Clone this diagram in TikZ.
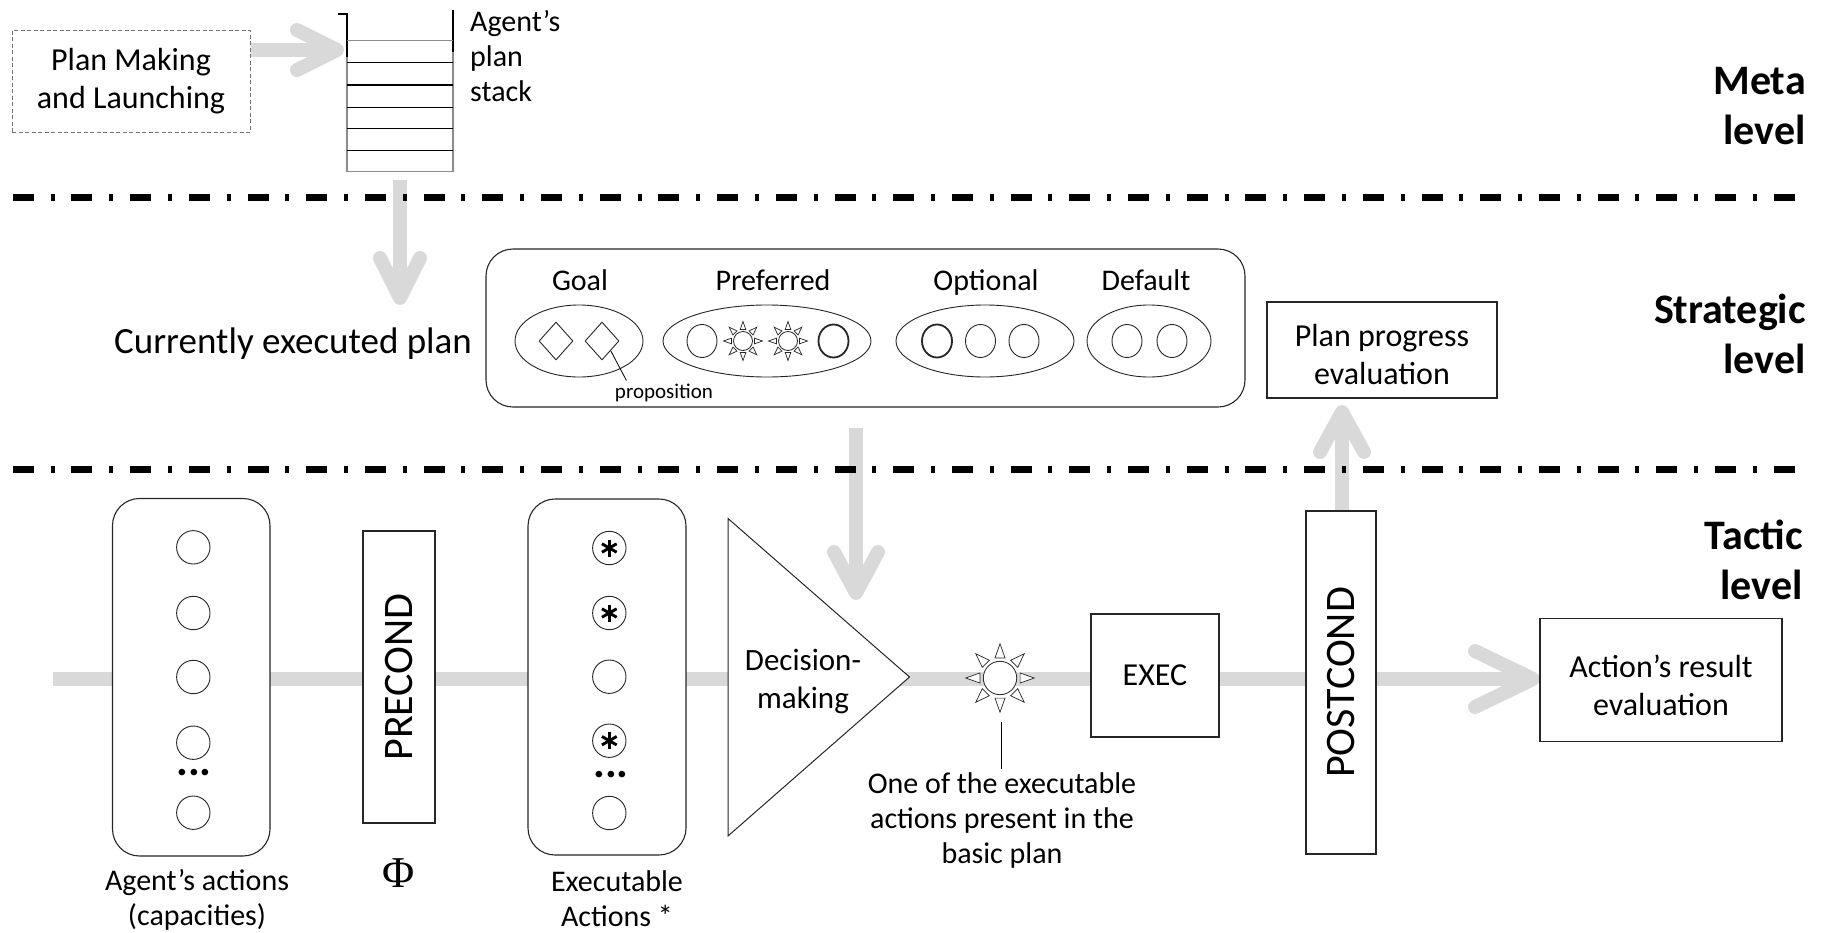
\documentclass[tikz,border=0pt]{standalone}
\usepackage{fontspec}
\setmainfont{Carlito}
\newfontfamily\phifont{Liberation Serif}
\usetikzlibrary{shapes.geometric,backgrounds,calc}
\definecolor{pipegrey}{HTML}{D9D9D9}
\definecolor{ink}{HTML}{262626}
\definecolor{stackgrey}{HTML}{8C8C8C}

\tikzset{
  fsize/.style 2 args={font=\fontsize{#1}{#2}\selectfont},
  pipe/.style={draw=pipegrey, line width=14pt},
  chevpipe/.style={pipe, line cap=round, line join=round},
  pics/chev/.style 2 args={code={\draw[chevpipe] (-#1,-#2) -- (0,0) -- (-#1,#2);}},
  pics/sun/.style={code={
      \node[circle, draw=ink, line width=0.8pt, fill=white, minimum size=2*#1pt, inner sep=0pt] (-c) {};
      \foreach \a in {0,45,...,315}
        \draw[draw=ink, line width=0.7pt, fill=white] (\a-14:1.24*#1) -- (\a:2.05*#1) -- (\a+14:1.24*#1) -- cycle;
  }},
  pics/ast/.style={code={
      \foreach \a in {90,30,150} \draw[line width=2.9pt] (\a:8.5) -- (\a+180:8.5);
  }},
  box/.style={draw=ink, line width=1.2pt, fill=white, inner sep=0pt, align=center, fsize={32}{38}},
  rbox/.style={draw=ink, line width=1.1pt, fill=white, rounded corners=27pt, inner sep=0pt},
  group/.style={ellipse, draw=ink, line width=0.9pt, fill=white, inner sep=0pt, minimum height=72pt},
  item/.style={ellipse, draw=ink, line width=0.9pt, fill=white, inner sep=0pt, minimum width=30pt, minimum height=33pt},
  bolditem/.style={item, line width=1.8pt},
  act/.style={circle, draw=ink, line width=0.9pt, fill=white, inner sep=0pt, minimum size=33.4pt},
  gem/.style={diamond, draw=ink, line width=0.9pt, fill=white, inner sep=0pt, minimum width=34pt, minimum height=38pt},
  lbl/.style={align=center, fsize={30}{35}},
  head/.style={anchor=base, fsize={30}{35}},
  lvl/.style={anchor=east, align=right, inner sep=0pt, font=\bfseries\fontsize{42}{50}\selectfont},
  dashdot/.style={line width=7pt, dash pattern=on 21pt off 16.8pt on 4pt off 16.9pt},
  dotrow/.style={inner sep=0pt, font=\bfseries\fontsize{44}{44}\selectfont},
}

\begin{document}
\begin{tikzpicture}[x=1pt,y=-1pt]
\useasboundingbox (0,0) rectangle (1823,932);

% ---------------- meta level ----------------
\node[box, dash pattern=on 4pt off 2.5pt, draw=black!55, line width=1pt,
      minimum width=238pt, minimum height=102pt] (pm) at (131,81)
      {Plan Making\\and Launching};

% plan stack
\node[inner sep=0pt, minimum width=106pt, minimum height=158pt] (stk) at (400,93) {};
\draw[line width=1.3pt] (338,14) -- (347,14) -- (347,57);
\draw[line width=1.3pt] (453,10) -- (453,52);
\draw[line width=1.3pt, stackgrey] (347,57) -- (347,171.7) -- (453,171.7) -- (453,52);
\draw[line width=1.3pt, stackgrey] (347,40.7) -- (453,40.7);
\foreach \y in {62.7,85,107.3,128.3,150.7}
  \draw[line width=1.2pt] (347,\y) -- (453,\y);
\node[anchor=west, align=left, fsize={30}{35}, inner sep=0pt] (stklbl) at (470,56) {Agent’s\\plan\\stack};

\node[lvl] (meta) at (1806,106.5) {Meta\\level};

% ---------------- strategic level ----------------
\node[fsize={37}{42}] (cur) at (293,344) {Currently executed plan};
\node[rbox, minimum width=759pt, minimum height=158pt] (plan) at (865.5,328) {};

\node[head] (lgoal) at (580,290) {Goal};
\node[head] (lpref) at (773,290) {Preferred};
\node[head] (lopt)  at (986,290) {Optional};
\node[head] (ldef)  at (1146,290) {Default};

\node[group, minimum width=128pt] (goal) at (579,341) {};
\node[gem] (g1) at (556,341) {};
\node[gem] (g2) at (602,341) {};
\node[fsize={21}{24}] (prop) at (664,393) {proposition};
\draw[line width=0.8pt] (g2.south east) -- ([xshift=15pt]prop.north west);

\node[group, minimum width=208pt] (pref) at (767,341) {};
\node[item] (p1) at (702,341) {};
\pic (p2) at (743,341) {sun=9.5};
\pic (p3) at (788,341) {sun=9.5};
\node[bolditem] (p4) at (833.5,341) {};

\node[group, minimum width=178pt] (opt) at (985,341) {};
\node[bolditem] (o1) at (937,341) {};
\node[item] (o2) at (980.5,341) {};
\node[item] (o3) at (1024,341) {};

\node[group, minimum width=124pt] (dflt) at (1149,341) {};
\node[item] (f1) at (1127,341) {};
\node[item] (f2) at (1172,341) {};

\node[box, minimum width=230pt, minimum height=96pt] (ppe) at (1382,350) {};
\node[align=center, fsize={32}{38}] (ppetxt) at (1382,355) {Plan progress\\evaluation};

\node[lvl] (strat) at (1806,334) {Strategic\\level};

% ---------------- tactic level ----------------
\node[lvl] (tact) at (1803,560) {Tactic\\level};

% agent's actions
\node[rbox, minimum width=157.5pt, minimum height=357.5pt] (acts) at (191.25,677.25) {};
\foreach \y [count=\i] in {547.3,613,677,742.7,812.7}
  \node[act] (a\i) at (193.3,\y) {};
\node[dotrow] (adots) at (194,773) {...};
\node[lbl] (actlbl) at (197,900) {Agent’s actions\\(capacities)};

% precondition filter
\node[box, rotate=90, minimum width=292pt, minimum height=72pt, fsize={42}{48}] (pre) at (399,677) {PRECOND};
\node[inner sep=0pt, font=\phifont\fontsize{44}{46}\selectfont] (phi) at (399,873) {Φ};

% executable actions
\node[rbox, minimum width=158pt, minimum height=356pt] (exe) at (607,677) {};
\foreach \y [count=\i] in {548,613,676.7,740.7,813}
  \node[act] (e\i) at (609.3,\y) {};
\pic at (e1) {ast};
\pic at (e2) {ast};
\pic at (e4) {ast};
\node[dotrow] (edots) at (611,775) {...};
\node[lbl] (exelbl) at (617,899) {Executable\\Actions *};

% decision making
\draw[draw=ink, line width=1pt, fill=white] (728,518.5) coordinate (dmtop) -- (909.5,677) coordinate (dmtip)
  -- (728,836) coordinate (dmbot) -- cycle;
\node[align=center, fsize={31}{38}] (dm) at (803,681) {Decision-\\making};

% chosen action
\pic (chosen) at (1000,678) {sun=16.7};
\node[lbl] (note) at (1002,820) {One of the executable\\actions present in the\\basic plan};
\draw[line width=0.9pt] ($(chosen-c.center)+(1,44)$) -- (note.north -| 1001,0);

\node[box, minimum width=128pt, minimum height=123pt] (exec) at (1155,675.5) {EXEC};
\node[box, rotate=90, minimum width=343pt, minimum height=70pt, fsize={42}{48}] (post) at (1341,682.5) {POSTCOND};
\node[box, minimum width=242pt, minimum height=123.5pt] (are) at (1661,680) {};
\node[align=center, fsize={32}{38}] (aretxt) at (1661,685) {Action’s result\\evaluation};

% ---------------- level separators ----------------
\coordinate (sepL1) at (12.7,197);  \coordinate (sepR1) at (1796,197);
\coordinate (sepL2) at (12.7,469);  \coordinate (sepR2) at (1796,469);
\draw[dashdot] (sepL1) -- (sepR1);
\draw[dashdot] (sepL2) -- (sepR2);

% ---------------- flow pipes ----------------
\coordinate (stkin)  at (337,50);
\coordinate (stkout) at (400,298);
\coordinate (dmin)   at (856,593);
\coordinate (ppin)   at (1342,412);
\coordinate (flow)   at (53,679);
\coordinate (arein)  at (1533,679);
\begin{pgfonlayer}{background}
  \draw[pipe] (pm.east |- stkin) -- (stkin);
  \pic at (stkin) {chev={40}{20}};
  \draw[pipe] ([yshift=-8pt]stk.south) -- (stkout);
  \pic[rotate=-90] at (stkout) {chev={40}{20}};
  \draw[pipe] ($(plan.south -| dmin)+(0,20)$) -- (dmin);
  \pic[rotate=-90] at (dmin) {chev={41}{22}};
  \draw[pipe] (post.east -| ppin) -- (ppin);
  \pic[rotate=90] at (ppin) {chev={40}{22}};
  \draw[pipe] (flow) -- (arein);
  \pic at (arein) {chev={58}{28}};
\end{pgfonlayer}
\end{tikzpicture}
\end{document}
